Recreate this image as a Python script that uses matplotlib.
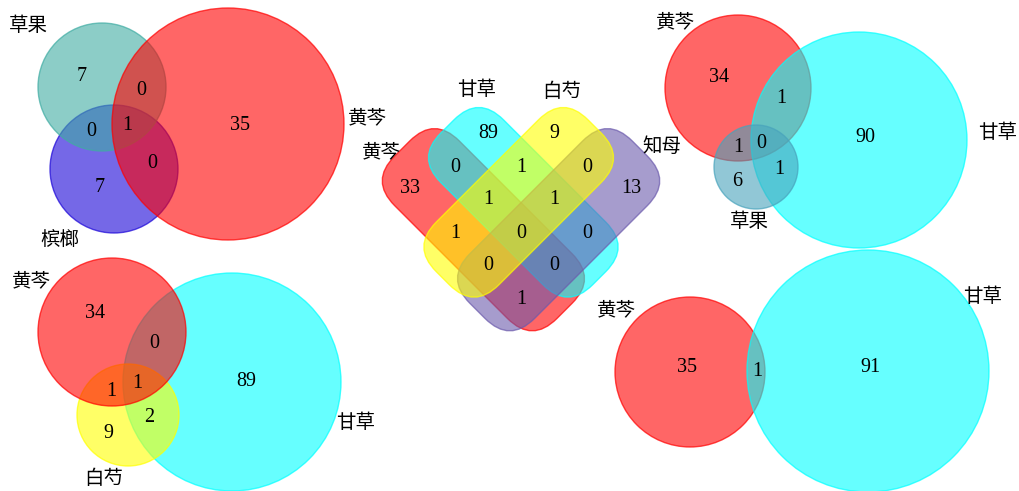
import matplotlib
matplotlib.use("Agg")
import matplotlib.pyplot as plt
from matplotlib.patches import Circle, FancyBboxPatch
from matplotlib.transforms import Affine2D
from matplotlib.colors import to_rgba

plt.rcParams['font.family'] = ['Liberation Serif', 'Noto Sans CJK SC', 'DejaVu Sans']

# ---- data: set names and region counts for each Venn diagram ----
# panel 1 (top left): 草果 / 槟榔 / 黄芩
p1_sets = ['草果', '槟榔', '黄芩']
p1_counts = [7, 7, 35, 0, 0, 0, 1]          # A, B, C, AB, AC, BC, ABC

# panel 2 (middle): 黄芩 / 甘草 / 白芍 / 知母
p2_sets = ['黄芩', '甘草', '白芍', '知母']
p2_counts = [33, 89, 9, 13,                 # only r, c, y, p
             0, 1, 0, 1, 0, 1,              # rc, cy, yp, ry, cp, rp
             1, 1, 0, 0,                    # rcy, cyp, ryp, rcp
             0]                             # all four

# panel 3 (top right): 黄芩 / 甘草 / 草果
p3_sets = ['黄芩', '甘草', '草果']
p3_counts = [34, 90, 6, 1, 1, 1, 0]         # A, B, C, AB, AC, BC, ABC

# panel 4 (bottom left): 黄芩 / 甘草 / 白芍
p4_sets = ['黄芩', '甘草', '白芍']
p4_counts = [34, 89, 9, 0, 1, 2, 1]         # A, B, C, AB, AC, BC, ABC

# panel 5 (bottom right): 黄芩 / 甘草
p5_sets = ['黄芩', '甘草']
p5_counts = [35, 91, 1]                     # A, B, AB

RED = '#ff0000'
CYAN = '#00ffff'
YELLOW = '#ffff00'
PURPLE = '#6b5aac'
BLUE = '#1a04d8'
TEAL1 = '#3faca3'
TEAL3 = '#48a3bc'

NUM_FS = 14.5
LAB_FS = 14


def circle(ax, x, y, r, color, alpha=0.6):
    ax.add_patch(Circle((x, y), r, facecolor=to_rgba(color, alpha),
                        edgecolor=to_rgba(color, 0.7), lw=1.0))


def num(ax, x, y, v):
    ax.text(x, y, str(v), fontsize=NUM_FS, ha='center', va='center')


def label(ax, x, y, s):
    ax.text(x, y, s, fontsize=LAB_FS, ha='center', va='center')


fig = plt.figure(figsize=(10.19, 4.91), dpi=100)
ax = fig.add_axes([0, 0, 1, 1])
ax.set_xlim(0, 1019)
ax.set_ylim(491, 0)
ax.set_aspect('equal')
ax.axis('off')

# ---- panel 1 ----
circle(ax, 114, 169, 64, BLUE)
circle(ax, 102, 87, 64, TEAL1)
circle(ax, 228, 124, 116, RED)
p1_pos = [(82, 76), (100, 187), (240, 125), (91, 131), (141, 90), (152, 164), (127, 125)]
for (x, y), v in zip(p1_pos, p1_counts):
    num(ax, x, y, v)
for (x, y), s in zip([(28, 26), (60, 240), (367, 118)], p1_sets):
    label(ax, x, y, s)

# ---- panel 2: four rotated rounded bands ----
X0, Y0, STEP = 521, 233, 33
UNIT = STEP * 2 ** 0.5


def grid(s, t):
    return X0 + STEP * (s + t), Y0 + STEP * (s - t)


def band(s, t, half_len, half_w, angle, color, alpha=0.6):
    cx, cy = grid(s, t)
    L, W = half_len * UNIT, half_w * UNIT
    box = FancyBboxPatch((-L, -W), 2 * L, 2 * W,
                         boxstyle='round,pad=0,rounding_size=%f' % (0.75 * UNIT),
                         facecolor=to_rgba(color, alpha),
                         edgecolor=to_rgba(color, 0.7), lw=1.0)
    box.set_transform(Affine2D().rotate_deg(angle).translate(cx, cy) + ax.transData)
    ax.add_patch(box)


band(-0.62, -0.52, 2.46, 0.98, 45, RED)
band(-0.43, 0.5, 2.3, 0.95, 45, CYAN)
band(0.52, 0.62, 2.46, 0.98, -45, PURPLE, 0.6)
band(-0.5, 0.43, 2.3, 0.95, -45, YELLOW)

p2_pos = [(-2.35, -1), (-2, 1), (-1, 2), (1, 2.35),
          (-2, 0), (-1, 1), (0, 2), (-1, -1), (1, 1), (1, -1),
          (-1, 0), (0, 1), (0, -1), (1, 0),
          (0, 0)]
for (s, t), v in zip(p2_pos, p2_counts):
    x, y = grid(s, t)
    num(ax, x, y, v)
for (x, y), s in zip([(381, 152), (477, 90), (562, 92), (662, 147)], p2_sets):
    label(ax, x, y, s)

# ---- panel 3 ----
circle(ax, 738, 88, 73, RED)
circle(ax, 859, 140, 108, CYAN)
circle(ax, 756, 167, 42, TEAL3)
p3_pos = [(719, 77), (865, 138), (737, 182), (781, 98), (738, 147), (779, 170), (761, 144)]
for (x, y), v in zip(p3_pos, p3_counts):
    num(ax, x, y, v)
for (x, y), s in zip([(675, 22), (998, 133), (749, 222)], p3_sets):
    label(ax, x, y, s)

# ---- panel 4 ----
circle(ax, 232, 382, 109, CYAN)
circle(ax, 128, 415, 51, YELLOW)
circle(ax, 112, 332, 74, RED)
p4_pos = [(95, 313), (246, 381), (108, 434), (154, 343), (111, 391), (149, 418), (137, 383)]
for (x, y), v in zip(p4_pos, p4_counts):
    num(ax, x, y, v)
for (x, y), s in zip([(31, 281), (356, 423), (104, 479)], p4_sets):
    label(ax, x, y, s)

# ---- panel 5 ----
circle(ax, 690, 372, 75, RED)
circle(ax, 868, 371, 121, CYAN)
p5_pos = [(687, 367), (870, 368), (757, 372)]
for (x, y), v in zip(p5_pos, p5_counts):
    num(ax, x, y, v)
for (x, y), s in zip([(616, 310), (983, 297)], p5_sets):
    label(ax, x, y, s)

fig.savefig('out.png', dpi=100)
